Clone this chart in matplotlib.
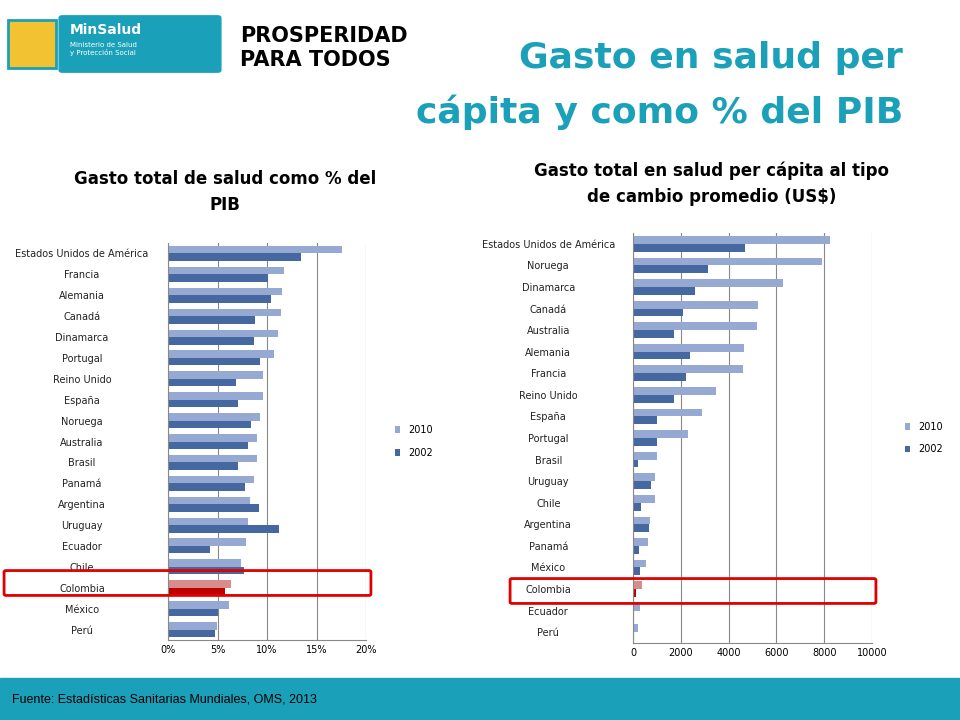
import matplotlib
matplotlib.use("Agg")
import matplotlib.pyplot as plt
import numpy as np
from matplotlib.patches import FancyBboxPatch, Rectangle

# ---------------------------------------------------------------------------
# Data
# ---------------------------------------------------------------------------
pib_countries = ["Estados Unidos de América", "Francia", "Alemania", "Canadá",
                 "Dinamarca", "Portugal", "Reino Unido", "España", "Noruega",
                 "Australia", "Brasil", "Panamá", "Argentina", "Uruguay",
                 "Ecuador", "Chile", "Colombia", "México", "Perú"]
pib_2010 = [17.6, 11.7, 11.5, 11.4, 11.1, 10.7, 9.6, 9.6, 9.3, 9.0, 9.0,
            8.7, 8.3, 8.1, 7.9, 7.4, 6.4, 6.2, 4.9]
pib_2002 = [13.4, 10.1, 10.4, 8.8, 8.7, 9.3, 6.9, 7.1, 8.4, 8.1, 7.1,
            7.8, 9.2, 11.2, 4.2, 7.7, 5.8, 5.1, 4.7]

pc_countries = ["Estados Unidos de América", "Noruega", "Dinamarca", "Canadá",
                "Australia", "Alemania", "Francia", "Reino Unido", "España",
                "Portugal", "Brasil", "Uruguay", "Chile", "Argentina",
                "Panamá", "México", "Colombia", "Ecuador", "Perú"]
pc_2010 = [8240, 7920, 6260, 5250, 5170, 4650, 4600, 3460, 2880, 2290, 990,
           940, 900, 730, 640, 560, 390, 300, 220]
pc_2002 = [4700, 3130, 2580, 2080, 1700, 2370, 2200, 1730, 1020, 1020, 220,
           770, 340, 680, 260, 300, 130, 0, 60]

C10, C02 = "#95a9d3", "#44689f"
C10_COL, C02_COL = "#d98c8c", "#c00000"
TEAL = "#1aa0b8"

plt.rcParams["font.family"] = "DejaVu Sans"
fig = plt.figure(figsize=(9.6, 7.2), dpi=100)
W, H = 960, 720


def fx(px):
    return px / W


def fy(py):
    return 1 - py / H


# header logos (approximate)
fig.patches.append(FancyBboxPatch((fx(62), fy(70)), fx(156), 52 / H,
                                  boxstyle="round,pad=0.003", transform=fig.transFigure,
                                  color=TEAL))
fig.text(fx(70), fy(34), "MinSalud", color="white", fontsize=10, fontweight="bold")
fig.text(fx(70), fy(55), "Ministerio de Salud\ny Protección Social", color="white",
         fontsize=5)
fig.patches.append(Rectangle((fx(8), fy(68)), fx(48), 48 / H, transform=fig.transFigure,
                             facecolor="#f2c230", edgecolor=TEAL, lw=2))
fig.text(fx(240), fy(42), "PROSPERIDAD", fontsize=15, fontweight="bold", color="black")
fig.text(fx(240), fy(66), "PARA TODOS", fontsize=15, fontweight="bold", color="black")
fig.text(fx(903), fy(68), "Gasto en salud per", ha="right", fontsize=26,
         fontweight="bold", color=TEAL)
fig.text(fx(903), fy(123), "cápita y como % del PIB", ha="right", fontsize=26,
         fontweight="bold", color=TEAL)

# footer
fig.patches.append(Rectangle((0, 0), 1, 42 / H, transform=fig.transFigure, color=TEAL))
fig.text(fx(12), fy(700), "Fuente: Estadísticas Sanitarias Mundiales, OMS, 2013",
         fontsize=9, va="center", color="black", family="Liberation Sans")


def draw(ax, cats, v10, v02, pad):
    n = len(cats)
    y = np.arange(n)[::-1]
    c10 = [C10_COL if c == "Colombia" else C10 for c in cats]
    c02 = [C02_COL if c == "Colombia" else C02 for c in cats]
    ax.barh(y + 0.18, v10, height=0.36, color=c10, label="2010")
    ax.barh(y - 0.18, v02, height=0.36, color=c02, label="2002")
    ax.set_yticks(y)
    ax.set_yticklabels(cats, fontsize=7, color="#222222")
    ax.set_ylim(-0.5, n - 0.5)
    ax.tick_params(axis="y", length=0, pad=pad)
    ax.tick_params(axis="x", labelsize=7, length=0)
    ax.grid(axis="x", color="#888888", lw=0.8)
    ax.set_axisbelow(True)
    for s in ["top", "right"]:
        ax.spines[s].set_visible(False)
    for s in ["left", "bottom"]:
        ax.spines[s].set_color("#888888")
    for lab in ax.get_yticklabels():
        lab.set_horizontalalignment("center")
    ax.legend(loc="center left", bbox_to_anchor=(1.1, 0.5), frameon=False, fontsize=7,
              handlelength=0.6, labelspacing=1.3)


# left chart
ax1 = fig.add_axes([fx(168), fy(640), fx(198), (640 - 243) / H])
draw(ax1, pib_countries, pib_2010, pib_2002, 62)
ax1.set_xlim(0, 20)
ax1.set_xticks([0, 5, 10, 15, 20])
ax1.set_xticklabels(["0%", "5%", "10%", "15%", "20%"])
fig.text(fx(225), fy(170), "Gasto total de salud como % del\nPIB", ha="center", va="top",
         fontsize=12, fontweight="bold", linespacing=1.6)
fig.patches.append(FancyBboxPatch((fx(6), fy(594)), fx(363), 22 / H,
                                  boxstyle="round,pad=0.002", transform=fig.transFigure,
                                  fill=False, edgecolor="#e00000", lw=2))

# right chart
ax2 = fig.add_axes([fx(633), fy(643), fx(239), (643 - 233) / H])
draw(ax2, pc_countries, pc_2010, pc_2002, 61)
ax2.set_xlim(0, 10000)
ax2.set_xticks([0, 2000, 4000, 6000, 8000, 10000])
fig.text(fx(712), fy(161), "Gasto total en salud per cápita al tipo\nde cambio promedio (US$)",
         ha="center", va="top", fontsize=12, fontweight="bold", linespacing=1.6)
fig.patches.append(FancyBboxPatch((fx(512), fy(602)), fx(362), 22 / H,
                                  boxstyle="round,pad=0.002", transform=fig.transFigure,
                                  fill=False, edgecolor="#e00000", lw=2))

fig.savefig("out.png", dpi=100)
